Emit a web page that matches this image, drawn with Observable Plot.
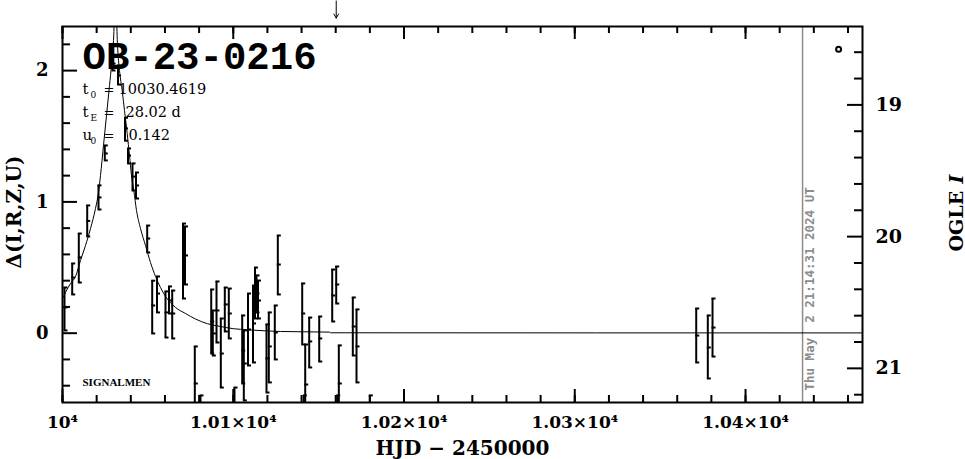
<!DOCTYPE html>
<html><head><meta charset="utf-8">
<script src="https://cdn.jsdelivr.net/npm/d3@7"></script>
<script src="https://cdn.jsdelivr.net/npm/@observablehq/plot@0.6"></script>
<style>body{margin:0;background:#fff;}</style>
</head><body><div id="chart"></div>
<script>
// ---- data ----
const titleText = "OB-23-0216";
const paramNames = ["t", "t", "u"];
const paramSubs = ["0", "E", "0"];
const paramValues = ["10030.4619", "28.02 d", "0.142"];
const signature = "SIGNALMEN";
const dateText = "Thu May\u00a0 2 21:14:31 2024 UT";
const dateHJD = 10433.4;
const arrowT = [10160.3];
const arrowY = [2.53, 2.40];
const markT = [10454.5];
const markD = [2.163];

const barT = [10001.17,10005.68,10009.55,10014.47,10021.08,10024.77,10029.28,10032.50,10036.60,10038.36,10041.00,10043.05,10049.60,10052.53,10055.34,10060.32,10062.37,10064.25,10070.57,10071.74,10077.48,10080.82,10087.09,10088.02,10090.19,10092.71,10095.05,10097.39,10100.73,10105.24,10106.18,10108.64,10111.57,10112.74,10113.62,10114.49,10119.47,10120.82,10124.33,10126.09,10140.38,10141.32,10142.14,10144.48,10150.34,10157.95,10160.29,10160.88,10161.82,10170.01,10172.18,10179.97,10371.12,10377.91,10380.67];
const barHi = [0.348,0.531,0.759,0.973,1.126,1.430,2.115,2.039,1.641,1.407,1.293,1.224,0.820,0.400,0.432,0.318,0.356,0.325,0.835,0.813,-0.101,-0.474,0.333,0.173,0.394,0.112,0.348,0.340,-0.414,0.135,0.021,0.302,0.363,0.500,0.440,0.401,0.067,0.158,0.211,0.744,0.379,-0.474,-0.086,0.119,0.127,0.485,0.508,-0.474,-0.093,0.272,0.181,-0.474,0.188,0.135,0.264];
const barLo = [0.021,0.295,0.386,0.737,0.942,1.316,2.001,1.894,1.466,1.293,1.087,1.026,0.615,-0.002,0.158,-0.033,0.150,-0.040,0.264,0.371,-0.665,-1.046,-0.155,-0.170,-0.071,-0.414,0.013,-0.040,-0.893,-0.383,-0.512,-0.246,-0.223,0.112,0.158,0.112,-0.452,-0.375,-0.200,0.295,-0.086,-0.970,-0.703,-0.261,-0.216,0.089,0.226,-1.046,-0.672,-0.170,-0.375,-1.046,-0.223,-0.345,-0.178];
const barMid = [0.196,0.424,0.577,0.855,1.034,1.369,2.054,1.963,1.560,1.353,1.193,1.125,0.721,0.211,0.302,0.158,0.249,0.150,0.538,0.592,-0.383,-0.753,0.089,-0.002,0.173,-0.155,0.219,0.150,-0.650,-0.132,-0.231,0.028,0.074,0.325,0.302,0.249,-0.192,-0.101,0.005,0.523,0.150,-0.726,-0.391,-0.063,-0.040,0.287,0.371,-0.756,-0.383,0.051,-0.101,-0.756,-0.018,-0.109,0.043];

const modelT = [10000.0,10001.76,10004.69,10007.62,10010.54,10013.47,10016.40,10019.33,10021.08,10022.25,10024.01,10025.77,10027.53,10028.70,10029.87,10031.04,10032.21,10033.38,10034.96,10036.31,10037.89,10039.24,10040.41,10041.76,10043.34,10045.68,10048.61,10051.54,10054.47,10057.39,10060.32,10066.18,10072.04,10077.89,10084.92,10092.53,10100.15,10108.35,10127.67,10156.37,10156.95,10468.5];
const modelD = [0.264,0.310,0.379,0.432,0.554,0.668,0.797,0.950,1.072,1.201,1.430,1.658,1.887,2.039,2.229,2.60,2.191,2.001,1.848,1.696,1.521,1.353,1.201,1.087,0.935,0.797,0.668,0.538,0.432,0.348,0.280,0.196,0.150,0.108,0.072,0.051,0.034,0.026,0.013,0.008,0.003,0.002];

const xDomain = [10000, 10468.5];
const yDomain = [-0.528, 2.336];
const xMajor = [10000, 10100, 10200, 10300, 10400];
const xMajorLabels = ["10\u2074", "1.01\u00d710\u2074", "1.02\u00d710\u2074", "1.03\u00d710\u2074", "1.04\u00d710\u2074"];
const xMinor = [10000,10020,10040,10060,10080,10100,10120,10140,10160,10180,10200,10220,10240,10260,10280,10300,10320,10340,10360,10380,10400,10420,10440,10460];
const yMajor = [0, 1, 2];
const yMajorLabels = ["0", "1", "2"];
const yMinor = [-0.4,-0.2,0.2,0.4,0.6,0.8,1.2,1.4,1.6,1.8,2.2];
const magMajor = [19, 20, 21];
const magLabels = ["19", "20", "21"];
const magMinor = [18.6,18.8,19.2,19.4,19.6,19.8,20.2,20.4,20.6,20.8,21.2];
const magAtZero = 20.733, deltaPerMag = 1.0034;
const magToDelta = m => (magAtZero - m) * deltaPerMag;
const xLabel = "HJD \u2212 2450000";
const yLabel = "\u0394(I,R,Z,U)";

// ---- layout ----
const W = 965, H = 459, ML = 62, MR = 103, MT = 26, MB = 57;
const FW = W - ML - MR, FH = H - MT - MB;
const serif = "DejaVu Serif";
const capSymbol = {draw(ctx) { ctx.moveTo(-1, 0); ctx.lineTo(3, 0); }};

const bars = barT.map((t, i) => ({t, lo: barLo[i], hi: barHi[i], mid: barMid[i]}));
const model = modelT.map((t, i) => ({t, d: modelD[i]}));
const rowBase = [93, 116, 139];
const valueX = [118, 125, 128];

const paramMarks = paramNames.flatMap((n, i) => [
  Plot.text([n], {text: d => d, frameAnchor: "top-left", dx: 20, dy: rowBase[i] - MT, lineAnchor: "bottom", textAnchor: "start", fontSize: 15, fontFamily: serif}),
  Plot.text([paramSubs[i]], {text: d => d, frameAnchor: "top-left", dx: 28, dy: rowBase[i] - MT + 4, lineAnchor: "bottom", textAnchor: "start", fontSize: 9, fontFamily: serif}),
  Plot.text(["="], {text: d => d, frameAnchor: "top-left", dx: 41, dy: rowBase[i] - MT, lineAnchor: "bottom", textAnchor: "start", fontSize: 13, fontFamily: serif}),
  Plot.text([paramValues[i]], {text: d => d, frameAnchor: "top-left", dx: valueX[i] - ML, dy: rowBase[i] - MT, lineAnchor: "bottom", textAnchor: "start", fontSize: 14.5, fontFamily: serif})
]);

const chart = Plot.plot({
  width: W, height: H,
  marginLeft: ML, marginRight: MR, marginTop: MT, marginBottom: MB,
  style: {background: "white", color: "black", fontFamily: serif, overflow: "visible"},
  x: {domain: xDomain, axis: null},
  y: {domain: yDomain, axis: null},
  marks: [
    // date line and label
    Plot.ruleX([dateHJD], {x: d => d, stroke: "#8c8c8c", strokeWidth: 1.5}),
    Plot.text([dateText], {text: d => d, x: dateHJD, frameAnchor: "bottom", rotate: -90, textAnchor: "start", dx: 11, dy: -12, fill: "#8c8c8c", fontFamily: "DejaVu Sans Mono", fontWeight: "bold", fontSize: 12.5}),
    // model
    Plot.line(model, {x: "t", y: "d", curve: "monotone-x", strokeWidth: 1, stroke: "black", clip: true}),
    // error bars
    Plot.ruleX(bars, {x: "t", y1: "lo", y2: "hi", strokeWidth: 2, stroke: "black", clip: true}),
    Plot.dot(bars, {x: "t", y: "hi", symbol: capSymbol, r: 3, stroke: "black", strokeWidth: 2, fill: "none", clip: true}),
    Plot.dot(bars, {x: "t", y: "lo", symbol: capSymbol, r: 3, stroke: "black", strokeWidth: 2, fill: "none", clip: true}),
    Plot.dot(bars, {x: "t", y: "mid", symbol: capSymbol, r: 3, stroke: "black", strokeWidth: 2, fill: "none", clip: true}),
    // marker circle
    Plot.dot(markT, {x: d => d, y: (d, i) => markD[i], r: 2.5, stroke: "black", strokeWidth: 2, fill: "none"}),
    // arrow above the frame
    Plot.arrow(arrowT, {x1: d => d, x2: d => d, y1: arrowY[0], y2: arrowY[1], headLength: 7, strokeWidth: 1, stroke: "black"}),
    // frame and ticks
    Plot.frame({stroke: "black", strokeWidth: 2}),
    Plot.ruleX(xMajor, {x: d => d, insetTop: FH - 13, strokeWidth: 2}),
    Plot.ruleX(xMajor, {x: d => d, insetBottom: FH - 13, strokeWidth: 2}),
    Plot.ruleX(xMinor, {x: d => d, insetTop: FH - 7, strokeWidth: 2}),
    Plot.ruleX(xMinor, {x: d => d, insetBottom: FH - 7, strokeWidth: 2}),
    Plot.ruleY(yMajor, {y: d => d, insetRight: FW - 15, strokeWidth: 2}),
    Plot.ruleY(yMinor, {y: d => d, insetRight: FW - 8, strokeWidth: 2}),
    Plot.ruleY(magMajor, {y: d => magToDelta(d), insetLeft: FW - 15, strokeWidth: 2}),
    Plot.ruleY(magMinor, {y: d => magToDelta(d), insetLeft: FW - 8, strokeWidth: 2}),
    // tick labels
    Plot.text(xMajor, {x: d => d, text: (d, i) => xMajorLabels[i], frameAnchor: "bottom", dy: 25, lineAnchor: "bottom", fontSize: 17, fontWeight: "bold"}),
    Plot.text(yMajor, {y: d => d, text: (d, i) => yMajorLabels[i], frameAnchor: "left", dx: -14, textAnchor: "end", fontSize: 18, fontWeight: "bold"}),
    Plot.text(magMajor, {y: d => magToDelta(d), text: (d, i) => magLabels[i], frameAnchor: "right", dx: 13, textAnchor: "start", fontSize: 19, fontWeight: "bold"}),
    // axis titles
    Plot.text([xLabel], {text: d => d, frameAnchor: "bottom", dy: 52, lineAnchor: "bottom", fontSize: 20, fontWeight: "bold"}),
    Plot.text([yLabel], {text: d => d, frameAnchor: "left", rotate: -90, dx: -48, dy: 54, textAnchor: "start", fontSize: 20, fontWeight: "bold"}),
    Plot.text(["OGLE"], {text: d => d, frameAnchor: "right", rotate: -90, dx: 94, dy: 37, textAnchor: "start", fontSize: 19, fontWeight: "bold"}),
    Plot.text(["I"], {text: d => d, frameAnchor: "right", rotate: -90, dx: 94, dy: -31, textAnchor: "start", fontSize: 19, fontWeight: "bold", fontStyle: "italic"}),
    // title, parameters, signature
    Plot.text([titleText], {text: d => d, frameAnchor: "top-left", dx: 20, dy: 42, lineAnchor: "bottom", textAnchor: "start", fontFamily: "Liberation Mono", fontWeight: "bold", fontSize: 39}),
    ...paramMarks,
    Plot.text([signature], {text: d => d, frameAnchor: "bottom-left", dx: 20, dy: -17, lineAnchor: "bottom", textAnchor: "start", fontFamily: "Liberation Serif", fontWeight: "bold", fontSize: 11})
  ]
});
document.getElementById("chart").append(chart);
</script>
</body></html>
